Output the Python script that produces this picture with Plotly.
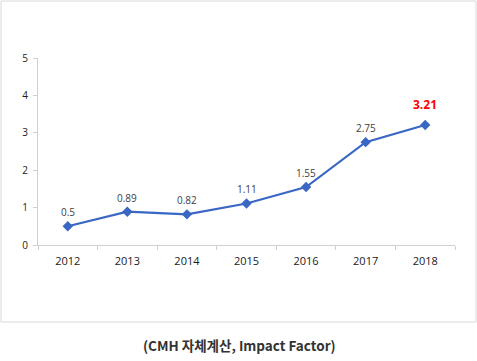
import plotly.graph_objects as go

years = ["2012", "2013", "2014", "2015", "2016", "2017", "2018"]
impact_factor = [0.5, 0.89, 0.82, 1.11, 1.55, 2.75, 3.21]
labels = ["0.5", "0.89", "0.82", "1.11", "1.55", "2.75", "<b>3.21</b>"]
label_colors = ["#404040"] * 6 + ["#ff0000"]
label_sizes = [10] * 6 + [12]
label_shift = [14] * 6 + [20]
y_ticks = [0, 1, 2, 3, 4, 5]
caption = "(CMH 자체계산, Impact Factor)"

W, H = 477, 361
pw, ph = 417, 187
L, T = 38, 58
R, B = W - L - pw, H - T - ph

def px(x):
    return (x - L) / pw

def py(y):
    return (T + ph - y) / ph

fig = go.Figure()
fig.add_trace(go.Scatter(
    x=years, y=impact_factor,
    mode="lines+markers",
    line=dict(color="#3a66c4", width=2.2),
    marker=dict(symbol="diamond", size=8, color="#3a66c4"),
    cliponaxis=False,
    hoverinfo="skip",
))

annotations = []
for i, (v, t, c, s, sh) in enumerate(zip(impact_factor, labels, label_colors, label_sizes, label_shift)):
    annotations.append(dict(
        x=i, y=v, xref="x", yref="y", text=t, showarrow=False,
        yshift=sh, yanchor="middle", xanchor="center",
        font=dict(color=c, size=s, family="Open Sans, sans-serif"),
    ))
annotations.append(dict(
    text="<b>" + caption + "</b>",
    xref="paper", yref="paper",
    x=px(239), y=py(345), xanchor="center", yanchor="middle",
    showarrow=False,
    font=dict(family="Noto Sans CJK KR, sans-serif", size=13.5, color="#333333"),
))

fig.update_layout(
    width=W, height=H,
    margin=dict(l=L, r=R, t=T, b=B),
    paper_bgcolor="white", plot_bgcolor="white",
    showlegend=False,
    font=dict(family="Open Sans, sans-serif", color="#404040"),
    xaxis=dict(
        type="category", range=[-0.5, 6.5],
        showline=True, linecolor="#d0d0d0", linewidth=1,
        ticks="outside", tickson="boundaries", ticklen=4, tickcolor="#d0d0d0",
        showgrid=False, zeroline=False,
        ticklabelstandoff=6,
        tickfont=dict(size=11, color="#1a1a1a"),
    ),
    yaxis=dict(
        range=[0, 5], tickvals=y_ticks,
        showline=True, linecolor="#d0d0d0", linewidth=1,
        ticks="outside", ticklen=4, tickcolor="#d0d0d0",
        showgrid=False, zeroline=False,
        ticklabelstandoff=3,
        tickfont=dict(size=10, color="#1a1a1a"),
    ),
    shapes=[dict(
        type="rect", xref="paper", yref="paper",
        x0=px(1), x1=px(476), y0=py(322), y1=py(1),
        line=dict(color="#d9d9d9", width=1),
    )],
    annotations=annotations,
)

fig.write_html(
    "out.html",
    config={"displayModeBar": False, "staticPlot": True},
    post_script="document.body.style.margin='0';",
)
